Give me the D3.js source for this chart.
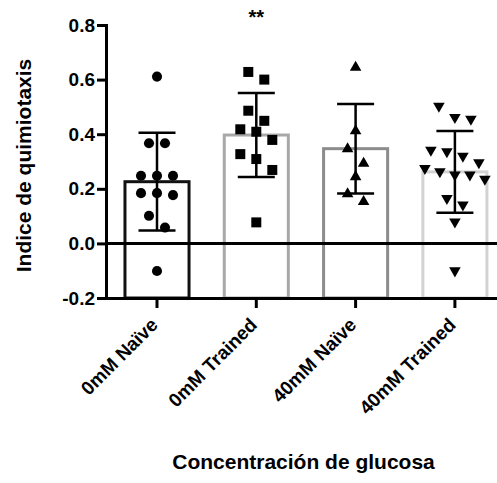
<!DOCTYPE html>
<html>
<head>
<meta charset="utf-8">
<script src="https://cdn.jsdelivr.net/npm/d3@7"></script>
<style>
    body { margin: 0; background: #fff; }
    svg text { font-family: "Liberation Sans", Arial, sans-serif; font-weight: bold; fill: #000; }
</style>
</head>
<body>
<svg id="chart" width="497" height="483"></svg>
<script>
// groups and values
var groups = ["0mM Naïve", "0mM Trained", "40mM Naïve", "40mM Trained"];
var naive0 = [0.611, 0.367, 0.367, 0.248, 0.248, 0.248, 0.184, 0.184, 0.177, 0.101, 0.058, -0.101];
var trained0 = [0.628, 0.600, 0.486, 0.449, 0.418, 0.409, 0.379, 0.327, 0.309, 0.269, 0.077];
var naive40 = [0.645, 0.412, 0.346, 0.293, 0.244, 0.181, 0.153];
var trained40 = [0.503, 0.462, 0.455, 0.342, 0.336, 0.320, 0.296, 0.275, 0.263, 0.251, 0.251, 0.236, 0.165, 0.141, 0.079, -0.100];
var means = [0.226, 0.397, 0.347, 0.262];
var sds = [0.179, 0.154, 0.164, 0.150];
var signif = ["", "**", "", ""];
var yTicks = [-0.2, 0.0, 0.2, 0.4, 0.6, 0.8];

var points = [naive0, trained0, naive40, trained40];
var barColors = ["#111111", "#a8a8a8", "#8c8c8c", "#d2d2d2"];
var symbols = [d3.symbolCircle, d3.symbolSquare, d3.symbolTriangle, d3.symbolTriangle];
var symbolSizes = [80, 100, 58, 58];
var symbolRotate = [0, 0, 0, 180];

var width = 497, height = 483;
var axisX = 106;

var svg = d3.select("#chart");

var y = d3.scaleLinear().domain([-0.2, 0.8]).range([298, 25]);
var x = d3.scaleBand().domain(groups).range([107.35, 504.55])
    .paddingInner(0.355).paddingOuter(0.1775);

function cx(i) {
    return x(groups[i]) + x.bandwidth() / 2;
}

// rows of points close in value are spread around the centre (prism style)
function spread(values) {
    var sorted = values.slice().sort(function (a, b) { return b - a; });
    var out = [];
    var row = [];
    function flush() {
        var n = row.length;
        var s = n > 1 ? Math.min(16, 60 / (n - 1)) : 0;
        for (var k = 0; k < n; k++) {
            out.push({v: row[k], dx: (k - (n - 1) / 2) * s});
        }
        row = [];
    }
    sorted.forEach(function (v) {
        if (row.length && y(v) - y(row[0]) >= 16) flush();
        row.push(v);
    });
    flush();
    return out;
}

// bars
svg.append("g").selectAll("rect")
    .data(means)
    .enter().append("rect")
    .attr("x", function (d, i) { return x(groups[i]); })
    .attr("y", function (d) { return y(d); })
    .attr("width", x.bandwidth())
    .attr("height", function (d) { return y(-0.2) - y(d); })
    .attr("fill", "#fff")
    .attr("stroke", function (d, i) { return barColors[i]; })
    .attr("stroke-width", 3);

// zero line
svg.append("line")
    .attr("x1", axisX).attr("x2", width)
    .attr("y1", y(0)).attr("y2", y(0))
    .attr("stroke", "#000").attr("stroke-width", 3);

// error bars (mean +- sd)
var err = svg.append("g").attr("stroke", "#000").attr("stroke-width", 2.5);
means.forEach(function (m, i) {
    var c = cx(i);
    err.append("line").attr("x1", c).attr("x2", c).attr("y1", y(m + sds[i])).attr("y2", y(m - sds[i]));
    err.append("line").attr("x1", c - 18.5).attr("x2", c + 18.5).attr("y1", y(m + sds[i])).attr("y2", y(m + sds[i]));
    err.append("line").attr("x1", c - 18.5).attr("x2", c + 18.5).attr("y1", y(m - sds[i])).attr("y2", y(m - sds[i]));
});

// individual points
points.forEach(function (vals, i) {
    var sym = d3.symbol().type(symbols[i]).size(symbolSizes[i]);
    svg.append("g").selectAll("path")
        .data(spread(vals))
        .enter().append("path")
        .attr("d", sym)
        .attr("fill", "#000")
        .attr("transform", function (d) {
            return "translate(" + (cx(i) + d.dx) + "," + y(d.v) + ") rotate(" + symbolRotate[i] + ")";
        });
});

// y axis
var yAxis = svg.append("g")
    .attr("transform", "translate(" + axisX + ",0)")
    .call(d3.axisLeft(y).tickValues(yTicks).tickSize(9).tickSizeOuter(0).tickPadding(2)
        .tickFormat(function (d) { return d.toFixed(1); }));
yAxis.select(".domain").attr("stroke-width", 3).attr("stroke-linecap", "square");
yAxis.selectAll(".tick line").attr("stroke-width", 3);
yAxis.selectAll(".tick text").style("font-size", "19px").attr("fill", "#000");

// x axis
var xAxis = svg.append("g")
    .attr("transform", "translate(0," + y(-0.2) + ")")
    .call(d3.axisBottom(x).tickSize(10).tickSizeOuter(0));
xAxis.select(".domain").attr("stroke-width", 3);
xAxis.selectAll(".tick line").attr("stroke-width", 3);
xAxis.selectAll(".tick text")
    .style("font-size", "19px")
    .attr("fill", "#000")
    .attr("text-anchor", "end")
    .attr("x", 0).attr("y", 0).attr("dy", 0)
    .attr("transform", "translate(2,28) rotate(-45)");

// significance marks
svg.append("g").selectAll("text")
    .data(signif)
    .enter().append("text")
    .attr("x", function (d, i) { return cx(i); })
    .attr("y", 24)
    .attr("text-anchor", "middle")
    .style("font-size", "20px")
    .text(function (d) { return d; });

// axis titles
svg.append("text")
    .attr("transform", "translate(31,165.5) rotate(-90)")
    .attr("text-anchor", "middle")
    .style("font-size", "21px")
    .text("Indice de quimiotaxis");

svg.append("text")
    .attr("x", 303.5).attr("y", 469)
    .attr("text-anchor", "middle")
    .style("font-size", "21px")
    .text("Concentración de glucosa");
</script>
</body>
</html>
